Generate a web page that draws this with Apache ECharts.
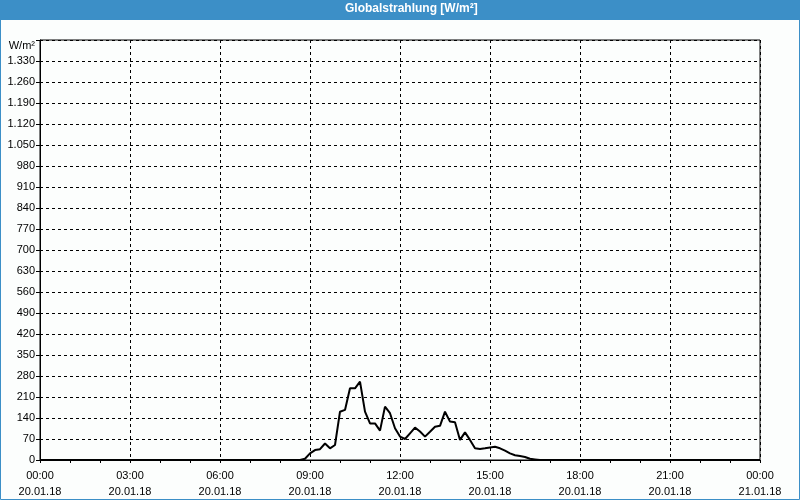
<!DOCTYPE html>
<html>
<head>
<meta charset="utf-8">
<script src="https://cdn.jsdelivr.net/npm/echarts@6/dist/echarts.min.js"></script>
<style>
html,body{margin:0;padding:0;background:#fcfefd;}
#c{width:800px;height:500px;}
</style>
</head>
<body>
<div id="c"></div>
<script>
// Data
var times = ['00:00','08:40','08:50','09:00','09:10','09:20','09:30','09:40','09:50',
  '10:00','10:10','10:20','10:30','10:40','10:50','11:00','11:10','11:20','11:30','11:40','11:50',
  '12:00','12:10','12:20','12:30','12:40','12:50','13:00','13:10','13:20','13:30','13:40','13:50',
  '14:00','14:10','14:20','14:30','14:40','14:50','15:00','15:10','15:20','15:30','15:40','15:50',
  '16:00','16:10','16:20','16:30','16:40','24:00'];
var values = [0,0,4,22,33,36,55,39,50,
  161,167,239,239,261,161,122,122,98,178,156,106,
  78,70,89,108,95,78,94,111,114,161,128,126,
  67,92,67,39,37,39,42,44,39,31,22,16,
  13,10,4,2,0,0];
var xTickTimes = ['00:00','03:00','06:00','09:00','12:00','15:00','18:00','21:00','00:00'];
var xTickDates = ['20.01.18','20.01.18','20.01.18','20.01.18','20.01.18','20.01.18','20.01.18','20.01.18','21.01.18'];
var yUnit = 'W/m\u00b2';
var titleText = 'Globalstrahlung [W/m\u00b2]';

function toHours(s){ var p = s.split(':'); return +p[0] + (+p[1])/60; }
var seriesData = times.map(function(t,i){ return [toHours(t), values[i]]; });
function fmtDE(v){ var s = String(v); return s.length > 3 ? s.slice(0, s.length-3) + '.' + s.slice(s.length-3) : s; }

var blue = '#3c8fc7';
var chart = echarts.init(document.getElementById('c'), null, {renderer:'canvas'});
chart.setOption({
  backgroundColor: '#fcfefd',
  animation: false,
  textStyle: {fontFamily: 'Liberation Sans'},
  graphic: [
    {type:'rect', shape:{x:0,y:0,width:800,height:20}, style:{fill:blue}, z:0},
    {type:'rect', shape:{x:0.5,y:0.5,width:799,height:499}, style:{fill:null, stroke:blue, lineWidth:1}, z:0}
  ],
  title: {
    text: titleText, left: 345, top: 3, padding: 0,
    textStyle: {color:'#fff', fontSize:12, fontWeight:'bold', fontFamily:'Liberation Sans'}
  },
  grid: {left:40, right:40, top:40, bottom:40, show:true, borderColor:'#000', borderWidth:1, backgroundColor:'#fcfefd'},
  xAxis: {
    type:'value', min:0, max:24, interval:3,
    axisLine:{show:true, lineStyle:{color:'#000', width:1}},
    axisTick:{show:true, length:3, lineStyle:{color:'#000'}},
    minorTick:{show:true, splitNumber:3, length:3, lineStyle:{color:'#000'}},
    splitLine:{show:true, lineStyle:{color:'#000', type:[3,3], width:1}},
    axisLabel:{
      color:'#000', fontSize:11, fontFamily:'Liberation Sans', margin:8, lineHeight:16,
      formatter:function(v){ var i = Math.round(v/3); return xTickTimes[i] + '\n' + xTickDates[i]; }
    }
  },
  yAxis: {
    type:'value', min:0, max:1400, interval:70,
    name: yUnit, nameLocation:'end', nameGap:-6,
    nameTextStyle:{color:'#000', fontSize:11, fontFamily:'Liberation Sans', align:'right', verticalAlign:'middle', padding:[0,5,0,0]},
    axisLine:{show:true, lineStyle:{color:'#000', width:1}},
    axisTick:{show:true, length:4, lineStyle:{color:'#000'}},
    splitLine:{show:true, lineStyle:{color:'#000', type:[3,3], width:1}},
    axisLabel:{
      color:'#000', fontSize:11, fontFamily:'Liberation Sans', margin:5,
      formatter:function(v){ return v >= 1400 ? '' : fmtDE(v); }
    }
  },
  series: [{
    type:'line', data: seriesData, showSymbol:false, symbol:'none', smooth:false,
    lineStyle:{color:'#000', width:2}, z:5
  }]
});
</script>
</body>
</html>
